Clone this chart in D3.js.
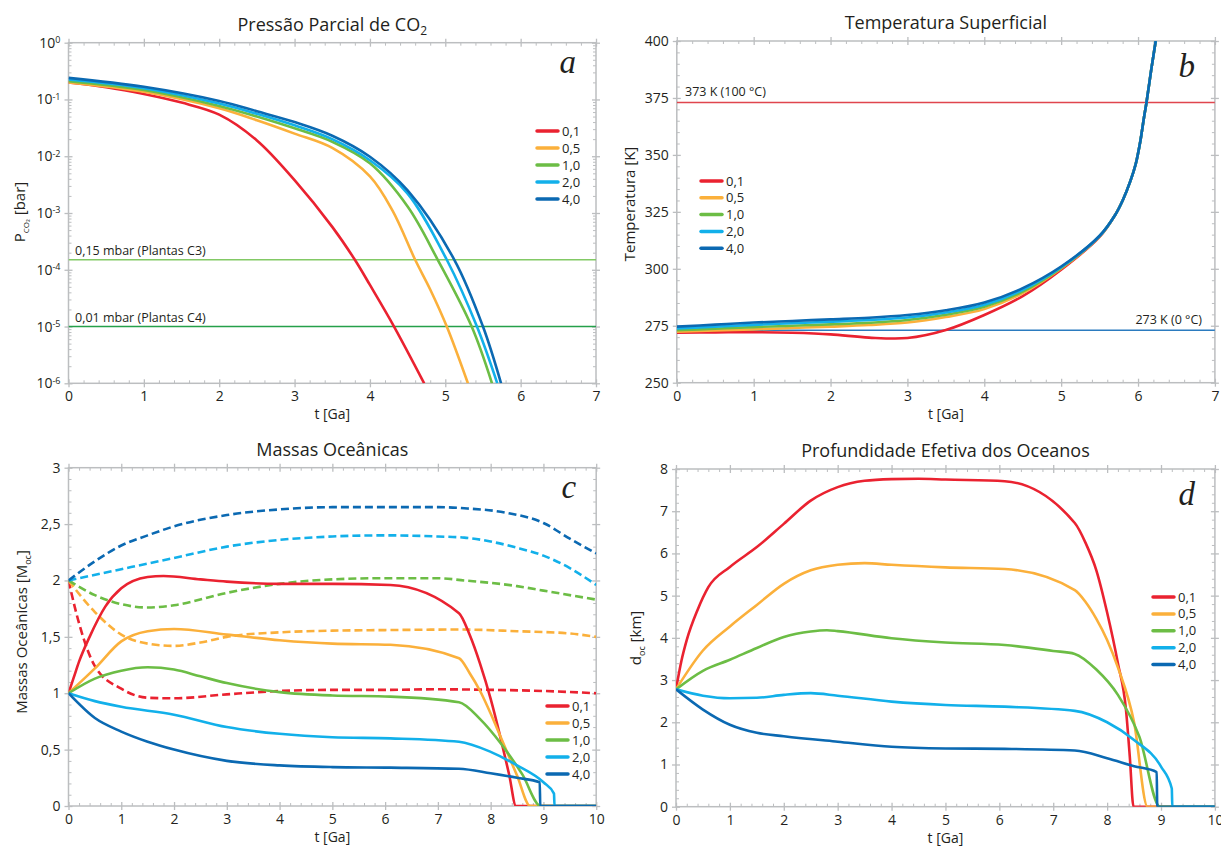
<!DOCTYPE html>
<html>
<head>
<meta charset="utf-8">
<script src="https://d3js.org/d3.v7.min.js"></script>
<style>
  body { margin: 0; background: #fff; }
  svg { font-family: "Open Sans", sans-serif; }
  .tick text { fill: #231f20; font-size: 14px; font-family: "Open Sans", sans-serif; }
  .lbl { fill: #231f20; }
</style>
</head>
<body>
<svg id="chart" width="1221" height="846"></svg>
<script>
// ---- data ----
const seriesNames = ["0,1", "0,5", "1,0", "2,0", "4,0"];
const seriesColors = ["#ea2230", "#fbb03b", "#6cbd45", "#12b0ea", "#0b69b2"];

// a) partial pressure of CO2 [bar], pairs [t, P]
const pco2_01 = [[0,0.2],[0.5,0.165],[1,0.125],[1.5,0.088],[2,0.054],[2.5,0.019],[3,3.8e-3],[3.5,5.7e-4],[3.8,1.5e-4],[4,5.4e-5],[4.32,1e-5],[4.72,1e-6]];
const pco2_05 = [[0,0.2],[1,0.137],[2,0.07],[2.5,0.043],[3,0.025],[3.5,0.014],[4,4.4e-3],[4.3,1.1e-3],[4.6,1.5e-4],[4.8,4.5e-5],[5.02,1e-5],[5.3,1e-6]];
const pco2_10 = [[0,0.21],[1,0.147],[2,0.077],[2.5,0.05],[3,0.031],[3.5,0.018],[4,7.5e-3],[4.5,1.3e-3],[4.9,1.5e-4],[5.35,1e-5],[5.62,1e-6]];
const pco2_20 = [[0,0.225],[1,0.158],[2,0.085],[2.5,0.056],[3,0.035],[3.5,0.02],[4,8.5e-3],[4.5,2.2e-3],[5.02,1.5e-4],[5.42,1e-5],[5.69,1e-6]];
const pco2_40 = [[0,0.24],[1,0.167],[2,0.094],[2.5,0.062],[3,0.04],[3.5,0.023],[4,9.8e-3],[4.5,2.5e-3],[5.12,1.5e-4],[5.5,1e-5],[5.74,1e-6]];
const pco2Refs = [1.5e-4, 1e-5];
const pco2RefLabels = ["0,15 mbar (Plantas C3)", "0,01 mbar (Plantas C4)"];

// b) surface temperature [K]
const tempT = [0, 0.5, 1, 1.5, 2, 2.5, 3, 3.5, 4, 4.5, 5, 5.5, 5.7, 5.8, 5.9, 5.97, 6.03, 6.08, 6.11, 6.17, 6.23];
const temp_01 = [272.0, 272.1, 272.2, 271.9, 271.2, 269.8, 269.6, 273.1, 279.7, 288.0, 299.6, 314.0, 323.5, 330, 338.5, 346, 356, 367, 373, 387, 400];
const temp_05 = [272.4, 272.9, 273.4, 274.0, 274.6, 275.3, 276.4, 278.8, 282.3, 289.3, 300.1, 314.2, 323.5, 330, 338.5, 346, 356, 367, 373, 387, 400];
const temp_10 = [273.0, 273.7, 274.4, 275.0, 275.6, 276.3, 277.5, 279.8, 283.3, 290.0, 300.4, 314.3, 323.5, 330, 338.5, 346, 356, 367, 373, 387, 400];
const temp_20 = [273.8, 274.6, 275.4, 276.1, 276.8, 277.5, 278.6, 280.8, 284.2, 290.8, 300.7, 314.4, 323.5, 330, 338.5, 346, 356, 367, 373, 387, 400];
const temp_40 = [274.6, 275.5, 276.4, 277.1, 277.8, 278.5, 279.7, 281.8, 285.2, 291.5, 301.0, 314.5, 323.5, 330, 338.5, 346, 356, 367, 373, 387, 400];
const tempRefs = [373, 273];
const tempRefLabels = ["373 K (100 °C)", "273 K (0 °C)"];

// c) ocean masses [M_oc]; solid starts at 1, dashed starts at 2
const mass_01 = [[0,1],[0.1,1.14],[0.2,1.28],[0.4,1.5],[0.7,1.77],[1,1.93],[1.5,2.03],[1.8,2.04],[2.5,2.01],[3,1.99],[4,1.97],[5,1.97],[6.1,1.96],[7.4,1.71],[7.6,1.52],[7.8,1.26],[8,0.95],[8.2,0.58],[8.35,0.28],[8.48,0],[10,0]];
const mass_05 = [[0,1],[0.5,1.22],[1,1.46],[1.5,1.55],[2,1.57],[3,1.52],[4,1.47],[5,1.44],[6.1,1.43],[7.4,1.31],[7.6,1.18],[7.8,1.02],[8,0.82],[8.2,0.6],[8.5,0.27],[8.75,0],[10,0]];
const mass_10 = [[0,1],[0.5,1.13],[1,1.2],[1.5,1.23],[2,1.21],[2.5,1.15],[3,1.09],[4,1.01],[5,0.98],[6.1,0.97],[7.4,0.92],[7.8,0.77],[8.2,0.55],[8.6,0.28],[8.95,0],[10,0]];
const mass_20 = [[0,1],[0.5,0.93],[1,0.88],[2,0.81],[3,0.7],[4,0.64],[5,0.61],[6.1,0.6],[7.4,0.57],[8,0.48],[8.5,0.36],[9,0.21],[9.2,0.11],[9.21,0],[10,0]];
const mass_40 = [[0,1],[0.5,0.78],[1,0.66],[1.5,0.57],[2,0.5],[3,0.4],[4,0.36],[5,0.345],[6.1,0.34],[7.4,0.33],[8,0.29],[8.5,0.25],[8.93,0.21],[8.94,0],[10,0]];
const massD_01 = [[0,2],[0.2,1.62],[0.5,1.24],[1,1.04],[1.5,0.96],[2,0.955],[3,0.99],[4,1.02],[5,1.03],[6,1.03],[7,1.035],[8,1.03],[9,1.02],[10,1.0]];
const massD_05 = [[0,2],[0.5,1.72],[1,1.52],[1.5,1.44],[2,1.42],[2.5,1.45],[3,1.5],[4,1.54],[5,1.555],[6,1.56],[7.4,1.565],[8.5,1.55],[9.5,1.53],[10,1.5]];
const massD_10 = [[0,2],[0.5,1.87],[1,1.79],[1.5,1.76],[2,1.78],[3,1.89],[4,1.97],[5,2.01],[6,2.02],[7,2.02],[7.5,2.0],[8.5,1.95],[9,1.91],[10,1.83]];
const massD_20 = [[0,2],[1,2.1],[2,2.2],[3,2.3],[4,2.36],[5,2.39],[6,2.4],[7,2.39],[7.5,2.38],[8.5,2.29],[9,2.22],[9.5,2.11],[10,1.96]];
const massD_40 = [[0,2],[0.5,2.17],[1,2.31],[1.5,2.4],[2,2.48],[3,2.58],[4,2.63],[5,2.65],[6,2.65],[7,2.65],[7.5,2.64],[8.3,2.6],[9,2.51],[9.5,2.37],[10,2.24]];

// d) effective ocean depth [km]
const depth_01 = [[0,2.78],[0.1,3.45],[0.2,3.95],[0.4,4.66],[0.6,5.2],[1,5.68],[1.5,6.15],[2,6.7],[2.5,7.25],[3,7.57],[3.5,7.72],[4,7.76],[4.5,7.77],[5,7.75],[6.1,7.71],[7.4,6.72],[7.6,6.25],[7.8,5.6],[8,4.6],[8.2,3.4],[8.35,2.3],[8.42,1.2],[8.49,0],[10,0]];
const depth_05 = [[0,2.78],[0.5,3.7],[1,4.27],[1.5,4.78],[2,5.28],[2.5,5.6],[3,5.73],[3.5,5.77],[4,5.73],[5,5.67],[6.1,5.63],[7.4,5.13],[7.6,4.85],[7.8,4.45],[8,3.95],[8.2,3.3],[8.5,2.0],[8.75,0],[10,0]];
const depth_10 = [[0,2.78],[0.5,3.22],[1,3.48],[1.5,3.76],[2,4.02],[2.5,4.15],[2.8,4.18],[3,4.16],[4,3.99],[5,3.89],[6.1,3.83],[7,3.69],[7.4,3.62],[7.8,3.25],[8.2,2.65],[8.6,1.65],[8.98,0],[10,0]];
const depth_20 = [[0,2.78],[0.5,2.63],[1,2.57],[1.5,2.58],[2,2.65],[2.5,2.69],[3,2.63],[4,2.49],[5,2.41],[6.1,2.37],[7.4,2.27],[8,2.0],[8.5,1.58],[9,0.95],[9.2,0.43],[9.21,0],[10,0]];
const depth_40 = [[0,2.78],[0.5,2.3],[1,1.94],[1.5,1.75],[2,1.67],[3,1.54],[4,1.42],[5,1.38],[6.1,1.37],[7.4,1.33],[8,1.15],[8.5,0.96],[8.92,0.82],[8.93,0],[10,0]];

// ---- drawing ----
const svg = d3.select("#chart");
const frameColor = "#bcbec0";
const comma = v => String(v).replace(".", ",");

function panel(o) {
  const x = d3.scaleLinear().domain(o.xDomain).range([o.left, o.right]);
  const y = (o.log ? d3.scaleLog() : d3.scaleLinear()).domain(o.yDomain).range([o.bottom, o.top]);
  const g = svg.append("g");
  const id = "clip" + o.key;
  svg.append("clipPath").attr("id", id).append("rect")
    .attr("x", o.left).attr("y", o.top)
    .attr("width", o.right - o.left).attr("height", o.bottom - o.top);

  const xMinor = d3.range(o.xDomain[0], o.xDomain[1] + 1e-9, 0.2).filter(v => Math.abs(v - Math.round(v)) > 1e-6);
  const xMajor = d3.range(o.xDomain[0], o.xDomain[1] + 1e-9, 1);

  function side(axisFn, scale, pos, major, minor, fmt, labels) {
    const ax = g.append("g").attr("transform", pos);
    ax.append("g").call(axisFn(scale).tickValues(minor).tickSize(-3).tickFormat(""))
      .call(s => s.select(".domain").remove())
      .selectAll("line").attr("stroke", frameColor).attr("stroke-width", 1);
    const mj = ax.append("g").call(axisFn(scale).tickValues(major).tickSize(4).tickPadding(4)
      .tickFormat(labels ? fmt : ""));
    mj.select(".domain").remove();
    mj.selectAll("line").attr("stroke", frameColor).attr("stroke-width", 1.3);
    return mj;
  }

  // bottom / top
  side(d3.axisBottom, x, `translate(0,${o.bottom})`, xMajor, xMinor, d => d, true)
    .selectAll(".tick line").attr("y1", -4);
  side(d3.axisTop, x, `translate(0,${o.top})`, xMajor, xMinor, d => d, false)
    .selectAll(".tick line").attr("y1", 4);
  // left / right
  const left = side(d3.axisLeft, y, `translate(${o.left},0)`, o.yMajor, o.yMinor, o.yFmt, true);
  left.selectAll(".tick line").attr("x1", 4);
  side(d3.axisRight, y, `translate(${o.right},0)`, o.yMajor, o.yMinor, o.yFmt, false)
    .selectAll(".tick line").attr("x1", -4);

  if (o.log) {
    left.selectAll(".tick text").each(function(d) {
      const e = Math.round(Math.log10(d));
      const t = d3.select(this).text("");
      t.append("tspan").text("10");
      t.append("tspan").attr("dy", "-0.5em").style("font-size", "9px").text(e === 0 ? "0" : "-" + Math.abs(e));
    });
  }

  g.append("rect").attr("x", o.left).attr("y", o.top)
    .attr("width", o.right - o.left).attr("height", o.bottom - o.top)
    .attr("fill", "none").attr("stroke", frameColor).attr("stroke-width", 1.5);

  // title
  g.append("text").attr("x", (o.left + o.right) / 2).attr("y", o.top - 12)
    .attr("text-anchor", "middle").style("font-size", "18px").attr("class", "lbl")
    .call(o.title);
  // x label
  g.append("text").attr("x", (o.left + o.right) / 2).attr("y", o.bottom + 36)
    .attr("text-anchor", "middle").style("font-size", "14px").attr("class", "lbl").text("t [Ga]");
  // y label
  g.append("text").attr("transform", `translate(${o.yLabelX},${o.yLabelY}) rotate(-90)`)
    .attr("text-anchor", "middle").style("font-size", "15px").attr("class", "lbl")
    .call(o.yLabel);
  // panel letter
  g.append("text").attr("x", o.right - 20).attr("y", o.letterY).attr("text-anchor", "end")
    .style("font-family", "'Liberation Serif', serif").style("font-style", "italic")
    .style("font-size", "33px").attr("fill", "#231f20").text(o.letter);

  const plot = g.append("g").attr("clip-path", `url(#${id})`);
  return { x, y, g, plot };
}

function drawLines(p, list, dashed, curve) {
  const line = d3.line().x(d => p.x(d[0])).y(d => p.y(d[1])).curve(curve || d3.curveMonotoneX);
  list.forEach((data, i) => {
    p.plot.append("path").datum(data).attr("d", line)
      .attr("fill", "none").attr("stroke", seriesColors[i]).attr("stroke-width", 2.6)
      .attr("stroke-linejoin", "round")
      .attr("stroke-dasharray", dashed ? "8,4" : null);
  });
}

function legend(p, lx, ly, step) {
  seriesNames.forEach((n, i) => {
    const yy = ly + i * step;
    p.g.append("line").attr("x1", lx).attr("x2", lx + 21).attr("y1", yy).attr("y2", yy)
      .attr("stroke", seriesColors[i]).attr("stroke-width", 3.5).attr("stroke-linecap", "round");
    p.g.append("text").attr("x", lx + 25).attr("y", yy + 4.5).style("font-size", "13px")
      .attr("class", "lbl").text(n);
  });
}

const smooth = d3.curveCatmullRom.alpha(0.5);

// panel a
const logMajor = d3.range(-6, 1).map(k => Math.pow(10, k));
const logMinor = [];
for (let k = -6; k < 0; k++) for (let m = 2; m <= 9; m++) logMinor.push(m * Math.pow(10, k));
const pa = panel({
  key: "a", left: 68.5, right: 596, top: 42.7, bottom: 383.3, xDomain: [0, 7], yDomain: [1e-6, 1], log: true,
  yMajor: logMajor, yMinor: logMinor, yFmt: d => d, letter: "a", letterY: 73,
  yLabelX: 25, yLabelY: 212,
  title: t => { t.append("tspan").text("Pressão Parcial de CO"); t.append("tspan").attr("dy", 4).style("font-size", "12px").text("2"); },
  yLabel: t => { t.append("tspan").text("P"); t.append("tspan").attr("dy", 4).style("font-size", "8px").text("CO₂"); t.append("tspan").attr("dy", -4).text(" [bar]"); }
});
const refColorsA = ["#82c965", "#25a04a"];
pco2Refs.forEach((v, i) => {
  pa.plot.append("line").attr("x1", pa.x(0)).attr("x2", pa.x(7)).attr("y1", pa.y(v)).attr("y2", pa.y(v))
    .attr("stroke", refColorsA[i]).attr("stroke-width", 1.6);
  pa.g.append("text").attr("x", 75).attr("y", pa.y(v) - 5).style("font-size", "12.5px").attr("class", "lbl").text(pco2RefLabels[i]);
});
drawLines(pa, [pco2_01, pco2_05, pco2_10, pco2_20, pco2_40], false, smooth);
legend(pa, 537, 131, 17);

// panel b
const pb = panel({
  key: "b", left: 676.8, right: 1214.9, top: 41, bottom: 382.7, xDomain: [0, 7], yDomain: [250, 400], log: false,
  yMajor: d3.range(250, 401, 25), yMinor: d3.range(250, 401, 5).filter(v => v % 25), yFmt: d => d,
  letter: "b", letterY: 77, yLabelX: 635, yLabelY: 204,
  title: t => t.text("Temperatura Superficial"),
  yLabel: t => t.text("Temperatura [K]")
});
const refColorsB = ["#e0464e", "#2b7bbf"];
tempRefs.forEach((v, i) => {
  pb.plot.append("line").attr("x1", pb.x(0)).attr("x2", pb.x(7)).attr("y1", pb.y(v)).attr("y2", pb.y(v))
    .attr("stroke", refColorsB[i]).attr("stroke-width", 1.6);
});
pb.g.append("text").attr("x", 685).attr("y", pb.y(tempRefs[0]) - 7).style("font-size", "12.5px").attr("class", "lbl").text(tempRefLabels[0]);
pb.g.append("text").attr("x", 1202).attr("y", pb.y(tempRefs[1]) - 6).attr("text-anchor", "end").style("font-size", "12.5px").attr("class", "lbl").text(tempRefLabels[1]);
drawLines(pb, [temp_01, temp_05, temp_10, temp_20, temp_40].map(s => s.map((v, j) => [tempT[j], v])), false, smooth);
legend(pb, 701, 181, 16.8);

// panel c
const pc = panel({
  key: "c", left: 68.5, right: 596.2, top: 467.7, bottom: 806, xDomain: [0, 10], yDomain: [0, 3], log: false,
  yMajor: d3.range(0, 3.01, 0.5), yMinor: d3.range(0, 3.01, 0.1).filter(v => Math.abs(v * 2 - Math.round(v * 2)) > 1e-6),
  yFmt: comma, letter: "c", letterY: 498, yLabelX: 27, yLabelY: 632,
  title: t => t.text("Massas Oceânicas"),
  yLabel: t => { t.append("tspan").text("Massas Oceânicas [M"); t.append("tspan").attr("dy", 4).style("font-size", "9px").text("oc"); t.append("tspan").attr("dy", -4).text("]"); }
});
drawLines(pc, [massD_01, massD_05, massD_10, massD_20, massD_40], true);
drawLines(pc, [mass_01, mass_05, mass_10, mass_20, mass_40], false);
legend(pc, 547, 706, 17);

// panel d
const pd = panel({
  key: "d", left: 676, right: 1214.9, top: 469, bottom: 806.7, xDomain: [0, 10], yDomain: [0, 8], log: false,
  yMajor: d3.range(0, 8.01, 1), yMinor: d3.range(0, 8.01, 0.2).filter(v => Math.abs(v - Math.round(v)) > 1e-6),
  yFmt: d => d, letter: "d", letterY: 505, yLabelX: 641, yLabelY: 638,
  title: t => t.text("Profundidade Efetiva dos Oceanos"),
  yLabel: t => { t.append("tspan").text("d"); t.append("tspan").attr("dy", 4).style("font-size", "9px").text("oc"); t.append("tspan").attr("dy", -4).text(" [km]"); }
});
drawLines(pd, [depth_01, depth_05, depth_10, depth_20, depth_40], false);
legend(pd, 1153, 597, 16.9);
</script>
</body>
</html>
